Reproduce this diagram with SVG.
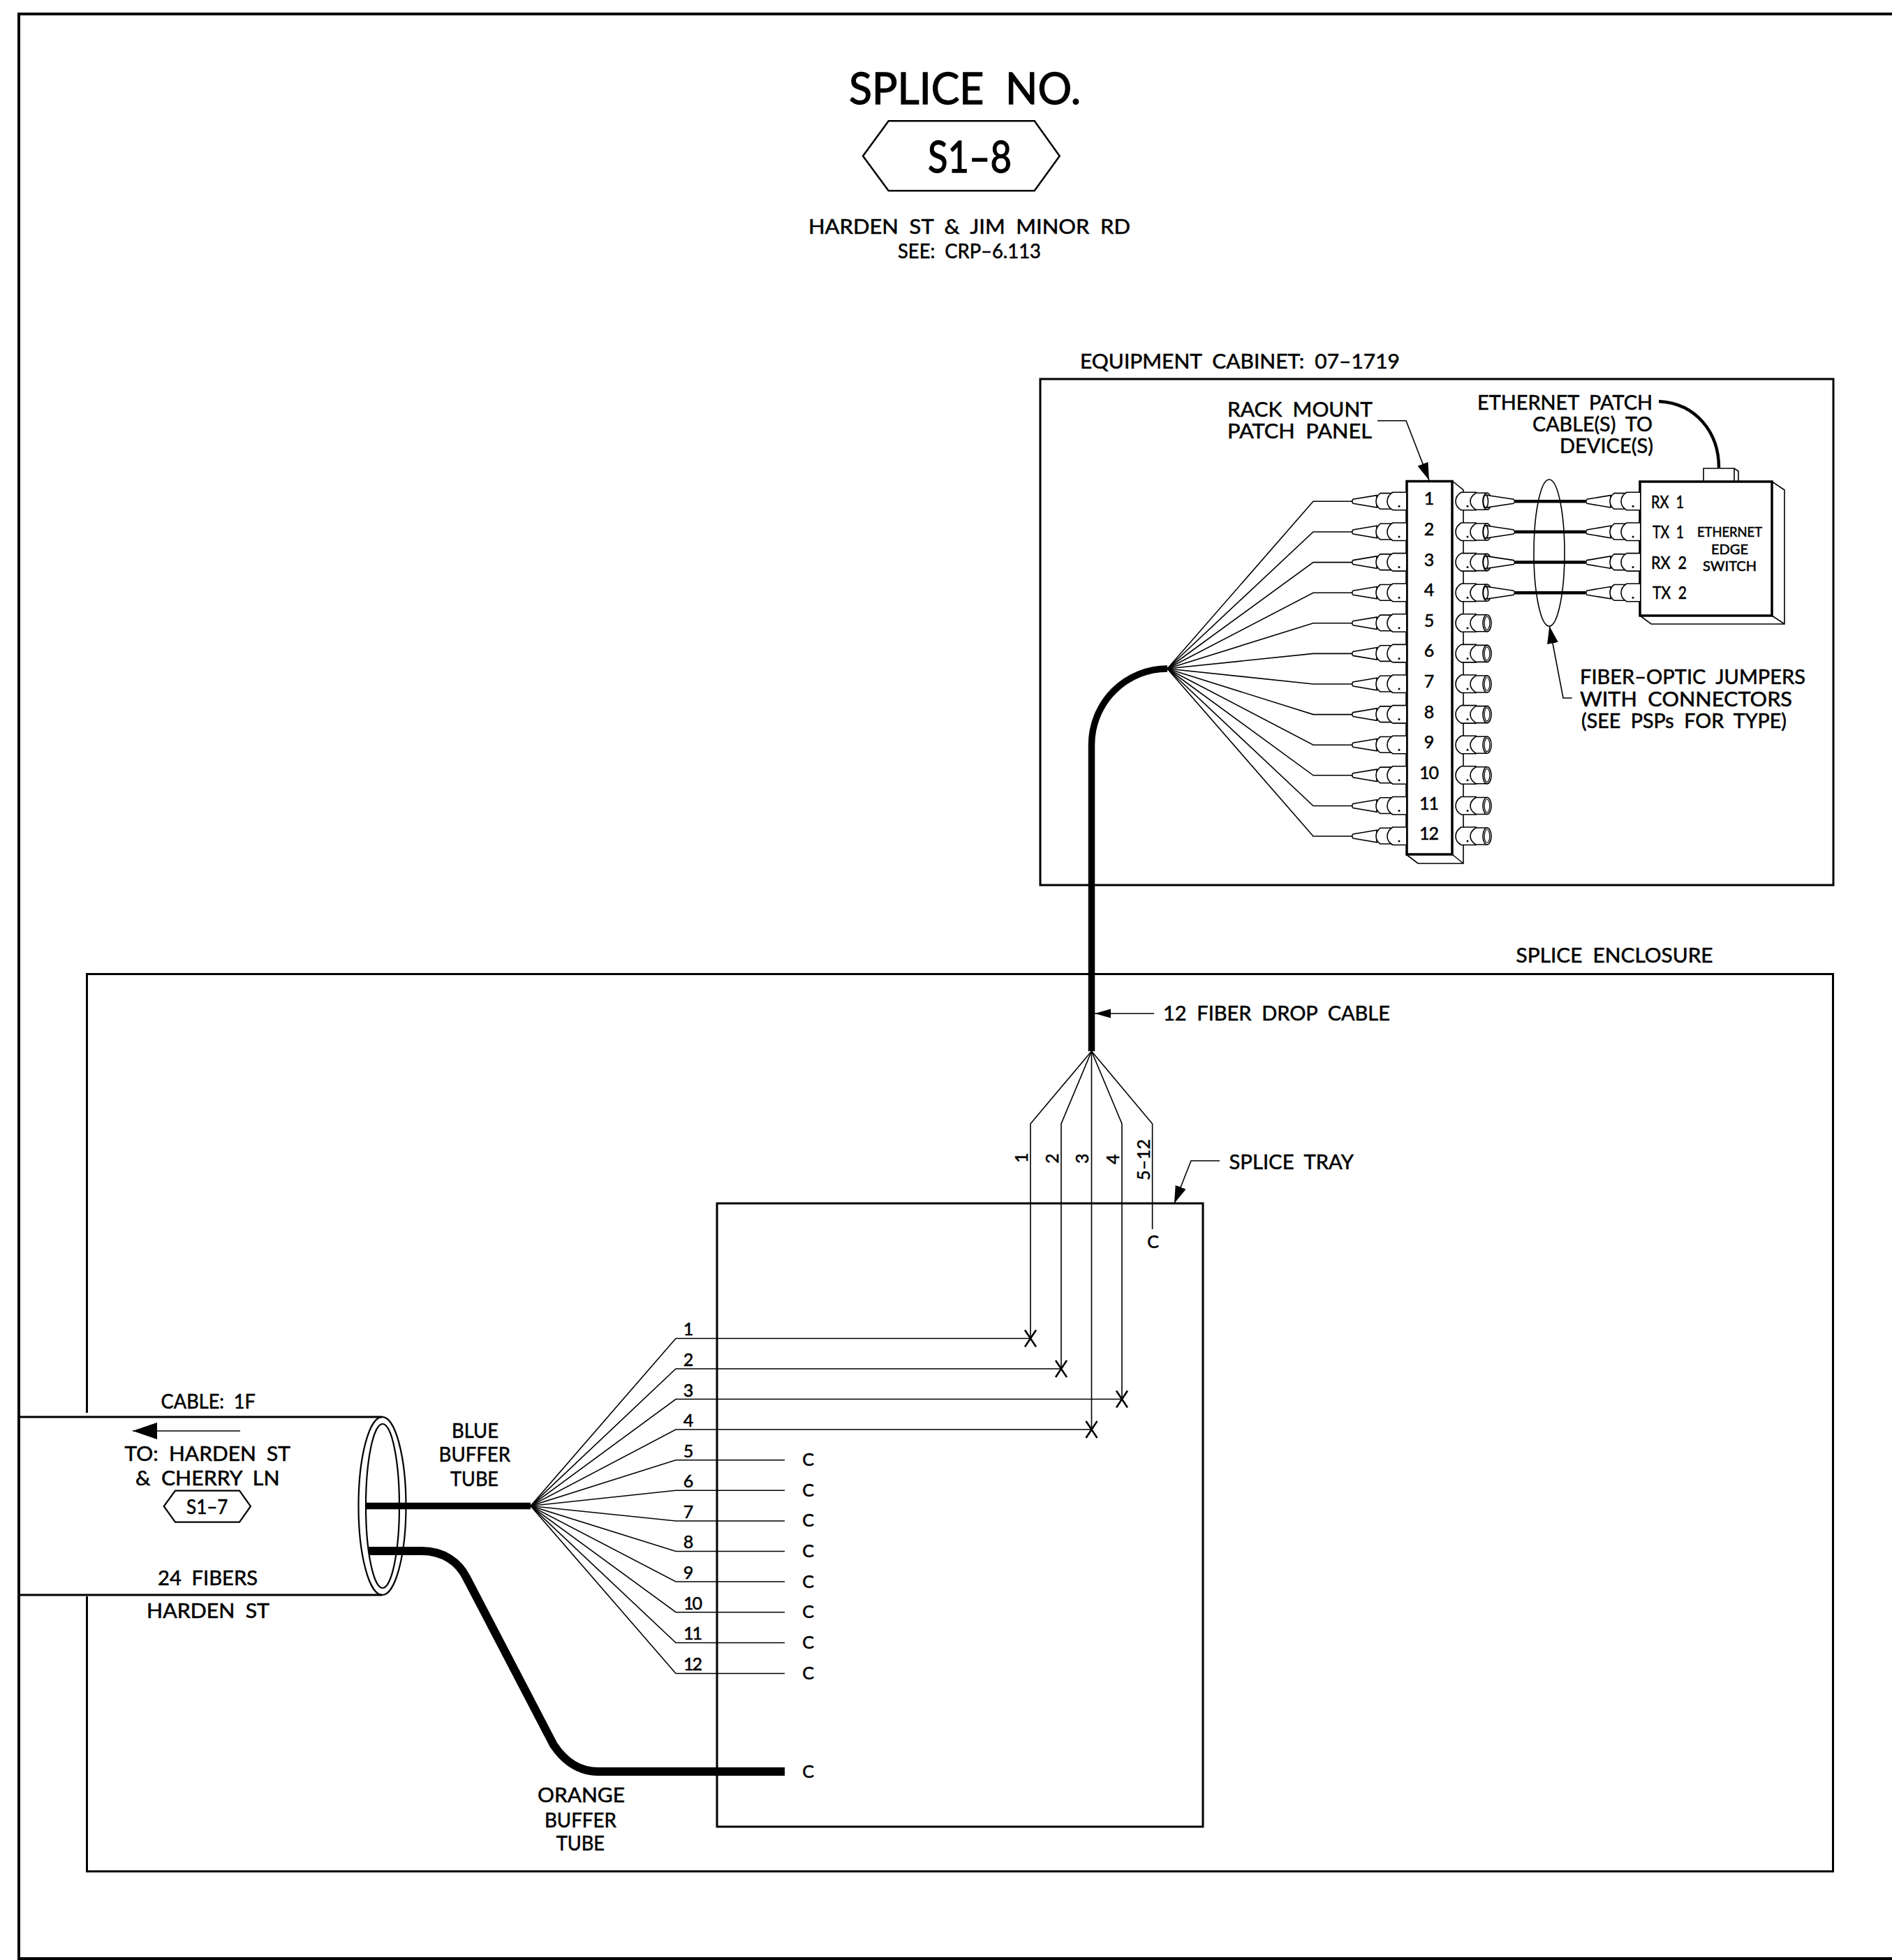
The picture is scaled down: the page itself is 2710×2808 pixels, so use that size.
<svg xmlns="http://www.w3.org/2000/svg" width="2710" height="2808" viewBox="0 0 2710 2808">
<style>
text{font-family:Lato,"Liberation Sans",sans-serif;fill:#000;stroke:#000;stroke-width:.55;word-spacing:.25em}
.h{stroke-width:1.3}
.l{font-size:29px}.s{font-size:25px}.xs{font-size:20px}.c{font-size:25px}
.m{text-anchor:middle}
.ln{fill:none;stroke:#000;stroke-width:1.6}
.box{fill:none;stroke:#000;stroke-width:3}
.pan{fill:#fff;stroke:#000;stroke-width:3.5}
.thick{fill:none;stroke:#000;stroke-width:9.5}
.wh{fill:#fff;stroke:#000;stroke-width:1.6}
.x{fill:none;stroke:#000;stroke-width:2.6}
</style>
<defs>
<g id="plugL">
<path class="wh" d="M-42-8.7L-76-3Q-78.5 0-76 3L-42 8.7Z"/>
<path class="wh" d="M-20-11.7H-37Q-43-7-43 0Q-43 7-37 11H-20Z"/>
<path class="wh" d="M0-13H-19Q-27-8-27 0Q-27 8-19 12.5H0"/>
<circle cx="-10" cy="7" r="1.5"/>
</g>
<g id="sock">
<path class="wh" d="M2115-13H2093Q2085-8 2085 0Q2085 8 2093 12.5H2115"/>
<path class="wh" d="M2130-12H2114Q2106-7 2106 0Q2106 7 2114 12H2130Z"/>
<circle cx="2102" cy="7" r="1.5"/>
<ellipse class="wh" cx="2130" cy="0" rx="6" ry="12"/>
<ellipse fill="none" stroke="#000" stroke-width="1.2" cx="2130" cy="0" rx="3.8" ry="9.5"/>
</g>
<g id="plugR">
<path class="wh" d="M2128-9L2168-3Q2171 0 2168 3L2128 9Z"/>
<ellipse class="wh" cx="2128" cy="0" rx="3.5" ry="9"/>
</g>
<g id="xm"><path class="x" d="M-8-12L8 12M8-12L-8 12"/></g>
<marker id="ah" markerUnits="userSpaceOnUse" markerWidth="26" markerHeight="18" refX="25" refY="8" orient="auto"><path d="M0 0L25 8L0 16Z"/></marker>
<marker id="ahs" markerUnits="userSpaceOnUse" markerWidth="24" markerHeight="14" refX="23" refY="6.5" orient="auto"><path d="M0 0L23 6.5L0 13Z"/></marker>
<marker id="ahb" markerUnits="userSpaceOnUse" markerWidth="36" markerHeight="26" refX="35" refY="12" orient="auto"><path d="M0 0L35 12L0 24Z"/></marker>
</defs>
<rect width="2710" height="2808" fill="#fff"/>

<g id="border"><path fill="none" stroke="#000" stroke-width="4" d="M2715 20H27V2806H2715"/></g>

<g id="title">
<text class="h" x="1216" y="149" font-size="62" textLength="332" lengthAdjust="spacingAndGlyphs">SPLICE NO.</text>
<path fill="none" stroke="#000" stroke-width="2.5" d="M1236 223.5L1272.7 173.3H1481.7L1517.7 223.5L1481.7 273.3H1272.7Z"/>
<text class="h" x="1329" y="246.5" font-size="62" textLength="120" lengthAdjust="spacingAndGlyphs">S1–8</text>
<text class="l" x="1158" y="335" textLength="461" lengthAdjust="spacingAndGlyphs">HARDEN ST &amp; JIM MINOR RD</text>
<text class="l" x="1286" y="370" textLength="205" lengthAdjust="spacingAndGlyphs">SEE: CRP–6.113</text>
</g>

<g id="cabinet">
<rect class="box" x="1490" y="543" width="1136" height="725"/>
<text class="l" x="1547" y="528" textLength="458" lengthAdjust="spacingAndGlyphs">EQUIPMENT CABINET: 07–1719</text>
</g>

<g id="connectors">
<g id="cabinet-fan" class="ln">
<path d="M1672 958L1881 718.3H1937"/>
<path d="M1672 958L1881 762H1937"/>
<path d="M1672 958L1881 805.6H1937"/>
<path d="M1672 958L1881 849.2H1937"/>
<path d="M1672 958L1881 892.8H1937"/>
<path d="M1672 958L1881 936.4H1937"/>
<path d="M1672 958L1881 980H1937"/>
<path d="M1672 958L1881 1023.6H1937"/>
<path d="M1672 958L1881 1067.2H1937"/>
<path d="M1672 958L1881 1110.8H1937"/>
<path d="M1672 958L1881 1154.5H1937"/>
<path d="M1672 958L1881 1198H1937"/>
</g>
<path class="thick" d="M1672 958A108.5 109 0 0 0 1563.5 1067V1506"/>
<g id="jumpers" fill="none" stroke="#000" stroke-width="4.5">
<path d="M2170 718.3H2271M2170 762H2271M2170 805.6H2271M2170 849.2H2271"/>
</g>
<path fill="none" stroke="#000" stroke-width="4.5" d="M2376 575C2430 578 2462 620 2462 670"/>
<path class="ln" d="M1973 602.7H2014L2047 688" marker-end="url(#ah)"/>
<path class="ln" d="M2251.7 1000H2239L2219.3 897" marker-end="url(#ah)"/>
<path class="ln" d="M1653 1452H1568" marker-end="url(#ahs)"/>
<path class="ln" d="M1747 1663H1706L1682 1724" marker-end="url(#ah)"/>

<g id="drop-fan" class="ln">
<path d="M1563.5 1506L1476 1610V1917"/>
<path d="M1563.5 1506L1520 1610V1961"/>
<path d="M1563.5 1506V2048"/>
<path d="M1563.5 1506L1607 1610V2004.5"/>
<path d="M1563.5 1506L1650.6 1610V1761"/>
</g>
<g id="tube-fan" class="ln">
<path d="M760 2157.5L968 1917.5H1476"/>
<path d="M760 2157.5L968 1961H1520"/>
<path d="M760 2157.5L968 2004.5H1607"/>
<path d="M760 2157.5L968 2048H1563.5"/>
<path d="M760 2157.5L968 2091.7H1124"/>
<path d="M760 2157.5L968 2135.3H1124"/>
<path d="M760 2157.5L968 2179H1124"/>
<path d="M760 2157.5L968 2222.5H1124"/>
<path d="M760 2157.5L968 2266H1124"/>
<path d="M760 2157.5L968 2309.7H1124"/>
<path d="M760 2157.5L968 2353.5H1124"/>
<path d="M760 2157.5L968 2397.5H1124"/>
</g>
<use href="#xm" x="1476" y="1917.5"/>
<use href="#xm" x="1520" y="1961"/>
<use href="#xm" x="1607" y="2004.5"/>
<use href="#xm" x="1563.5" y="2048"/>
<path class="thick" d="M524 2157.5H760"/>
<path fill="none" stroke="#000" stroke-width="12" d="M528 2222H604C635 2222 657 2238 668 2260L793 2500C810 2525 830 2538 857 2538H1124"/>
</g>

<g id="patch-panel">
<path class="ln" d="M2080 689L2096 702V1237H2031L2014 1224M2080 1224L2096 1237"/>
<rect class="pan" x="2015" y="689.5" width="65" height="534.5"/>
<use href="#plugL" x="2014" y="718.3"/><use href="#plugL" x="2014" y="762"/><use href="#plugL" x="2014" y="805.6"/><use href="#plugL" x="2014" y="849.2"/><use href="#plugL" x="2014" y="892.8"/><use href="#plugL" x="2014" y="936.4"/><use href="#plugL" x="2014" y="980"/><use href="#plugL" x="2014" y="1023.6"/><use href="#plugL" x="2014" y="1067.2"/><use href="#plugL" x="2014" y="1110.8"/><use href="#plugL" x="2014" y="1154.5"/><use href="#plugL" x="2014" y="1198"/>
<use href="#sock" y="718.3"/><use href="#sock" y="762"/><use href="#sock" y="805.6"/><use href="#sock" y="849.2"/><use href="#sock" y="892.8"/><use href="#sock" y="936.4"/><use href="#sock" y="980"/><use href="#sock" y="1023.6"/><use href="#sock" y="1067.2"/><use href="#sock" y="1110.8"/><use href="#sock" y="1154.5"/><use href="#sock" y="1198"/>
<use href="#plugR" y="718.3"/><use href="#plugR" y="762"/><use href="#plugR" y="805.6"/><use href="#plugR" y="849.2"/>
<text class="s m" x="2047" y="723.3">1</text><text class="s m" x="2047" y="767">2</text><text class="s m" x="2047" y="810.6">3</text><text class="s m" x="2047" y="854.2">4</text><text class="s m" x="2047" y="897.8">5</text><text class="s m" x="2047" y="941.4">6</text><text class="s m" x="2047" y="985">7</text><text class="s m" x="2047" y="1028.6">8</text><text class="s m" x="2047" y="1072.2">9</text>
<text class="s m" x="2047" y="1115.8" textLength="28">10</text><text class="s m" x="2047" y="1159.5" textLength="28">11</text><text class="s m" x="2047" y="1203" textLength="28">12</text>
<text class="l" x="1758" y="596.7" textLength="208" lengthAdjust="spacingAndGlyphs">RACK MOUNT</text>
<text class="l" x="1758" y="628" textLength="207" lengthAdjust="spacingAndGlyphs">PATCH PANEL</text>
</g>

<g id="ethernet-switch">
<path class="ln" d="M2440 690V671H2484L2490 675V690M2484 671V690"/>
<path class="ln" d="M2538 690L2556 702V894H2365L2349 882M2538 882L2556 894"/>
<rect class="pan" x="2349" y="690" width="189" height="192"/>
<use href="#plugL" x="2349" y="718.3"/><use href="#plugL" x="2349" y="762"/><use href="#plugL" x="2349" y="805.6"/><use href="#plugL" x="2349" y="849.2"/>
<text class="s" x="2365" y="727.7" textLength="47" lengthAdjust="spacingAndGlyphs">RX 1</text>
<text class="s" x="2367" y="771" textLength="45" lengthAdjust="spacingAndGlyphs">TX 1</text>
<text class="s" x="2365" y="815" textLength="51" lengthAdjust="spacingAndGlyphs">RX 2</text>
<text class="s" x="2367" y="858" textLength="49" lengthAdjust="spacingAndGlyphs">TX 2</text>
<text class="xs m" x="2477.5" y="769" textLength="93" lengthAdjust="spacingAndGlyphs">ETHERNET</text>
<text class="xs m" x="2477.5" y="794">EDGE</text>
<text class="xs m" x="2477.5" y="818">SWITCH</text>
<text class="l" x="2116" y="586.7" textLength="251" lengthAdjust="spacingAndGlyphs">ETHERNET PATCH</text>
<text class="l" x="2195" y="618" textLength="172" lengthAdjust="spacingAndGlyphs">CABLE(S) TO</text>
<text class="l" x="2234" y="649" textLength="134" lengthAdjust="spacingAndGlyphs">DEVICE(S)</text>
</g>

<g id="jumper-note">
<ellipse class="ln" cx="2219" cy="792" rx="22" ry="105"/>
<text class="l" x="2263" y="980" textLength="323" lengthAdjust="spacingAndGlyphs">FIBER–OPTIC JUMPERS</text>
<text class="l" x="2263" y="1011.7" textLength="304" lengthAdjust="spacingAndGlyphs">WITH CONNECTORS</text>
<text class="l" x="2265" y="1043" textLength="294" lengthAdjust="spacingAndGlyphs">(SEE PSPs FOR TYPE)</text>
</g>

<g id="enclosure">
<path class="box" d="M124.5 2024V1395.5H2625.5V2681H124.5V2287"/>
<text class="l" x="2171.6" y="1379" textLength="282" lengthAdjust="spacingAndGlyphs">SPLICE ENCLOSURE</text>
<text class="l" x="1666" y="1462" textLength="325" lengthAdjust="spacingAndGlyphs">12 FIBER DROP CABLE</text>
</g>

<g id="splice-tray">
<rect class="box" x="1027" y="1724" width="696" height="893"/>
<text class="l" x="1760.5" y="1675" textLength="178.5" lengthAdjust="spacingAndGlyphs">SPLICE TRAY</text>
<text class="s" transform="translate(1472 1666)rotate(-90)">1</text>
<text class="s" transform="translate(1515.6 1667)rotate(-90)">2</text>
<text class="s" transform="translate(1559 1667)rotate(-90)">3</text>
<text class="s" transform="translate(1603 1668)rotate(-90)">4</text>
<text class="s" transform="translate(1647 1691)rotate(-90)" textLength="59">5–12</text>
<text class="c m" x="1651.5" y="1788">C</text>
<text class="s m" x="986" y="1913">1</text><text class="s m" x="986" y="1957">2</text><text class="s m" x="986" y="2000.5">3</text><text class="s m" x="986" y="2044">4</text><text class="s m" x="986" y="2087.5">5</text><text class="s m" x="986" y="2131">6</text><text class="s m" x="986" y="2175">7</text><text class="s m" x="986" y="2218">8</text><text class="s m" x="986" y="2262">9</text>
<text class="s m" x="992.5" y="2305.5" textLength="27">10</text><text class="s m" x="992.5" y="2349" textLength="27">11</text><text class="s m" x="992.5" y="2393" textLength="27">12</text>
<text class="c m" x="1157.7" y="2100">C</text><text class="c m" x="1157.7" y="2143.5">C</text><text class="c m" x="1157.7" y="2187">C</text><text class="c m" x="1157.7" y="2231">C</text><text class="c m" x="1157.7" y="2274.5">C</text><text class="c m" x="1157.7" y="2318">C</text><text class="c m" x="1157.7" y="2362">C</text><text class="c m" x="1157.7" y="2405.5">C</text><text class="c m" x="1157.7" y="2546.7">C</text>
</g>

<g id="cable">
<path fill="none" stroke="#000" stroke-width="3" d="M27 2030H547.5M27 2285H547.5"/>
<ellipse fill="none" stroke="#000" stroke-width="2.2" cx="547.5" cy="2157.5" rx="34" ry="127.5"/>
<ellipse fill="none" stroke="#000" stroke-width="2.2" cx="548" cy="2157.5" rx="24" ry="117.5"/>
<path class="ln" d="M344 2050H190" marker-end="url(#ahb)"/>
<text class="l" x="230.6" y="2017.7" textLength="135.4" lengthAdjust="spacingAndGlyphs">CABLE: 1F</text>
<text class="l" x="178.6" y="2093" textLength="237.4" lengthAdjust="spacingAndGlyphs">TO: HARDEN ST</text>
<text class="l" x="194" y="2127.7" textLength="206.5" lengthAdjust="spacingAndGlyphs">&amp; CHERRY LN</text>
<path fill="none" stroke="#000" stroke-width="2.2" d="M234.7 2158L251 2135.7H343L359 2158L343 2180.7H251Z"/>
<text class="l" x="267" y="2169" textLength="59.5" lengthAdjust="spacingAndGlyphs">S1–7</text>
<text class="l" x="226" y="2270.7" textLength="143" lengthAdjust="spacingAndGlyphs">24 FIBERS</text>
<text class="l" x="210" y="2318" textLength="176" lengthAdjust="spacingAndGlyphs">HARDEN ST</text>
<text class="l" x="647" y="2060" textLength="67" lengthAdjust="spacingAndGlyphs">BLUE</text>
<text class="l" x="628.6" y="2094" textLength="102.4" lengthAdjust="spacingAndGlyphs">BUFFER</text>
<text class="l" x="645" y="2129" textLength="69" lengthAdjust="spacingAndGlyphs">TUBE</text>
<text class="l" x="770" y="2581.7" textLength="125" lengthAdjust="spacingAndGlyphs">ORANGE</text>
<text class="l" x="780" y="2617.7" textLength="102.7" lengthAdjust="spacingAndGlyphs">BUFFER</text>
<text class="l" x="796.7" y="2651" textLength="69.3" lengthAdjust="spacingAndGlyphs">TUBE</text>
</g>
</svg>
